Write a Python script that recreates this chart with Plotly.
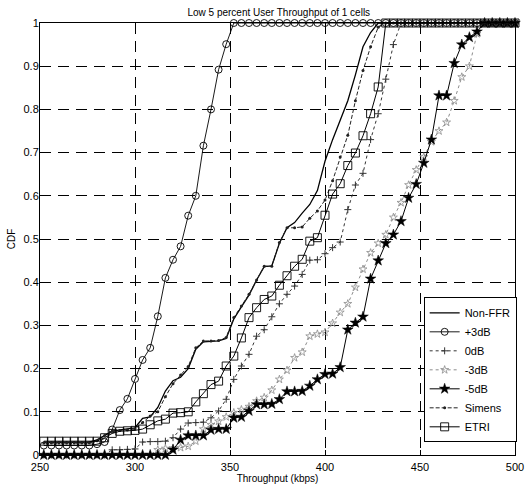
import plotly.graph_objects as go

# Throughput grid (kbps)
throughput = [252, 256, 260, 264, 268, 272, 276, 280,
              284, 288, 292, 296, 300, 304, 308, 312,
              316, 320, 324, 328, 332, 336, 340, 344,
              348, 352, 356, 360, 364, 368, 372, 376,
              380, 384, 388, 392, 396, 400, 404, 408,
              412, 416, 420, 424, 428, 432, 436, 440,
              444, 448, 452, 456, 460, 464, 468, 472,
              476, 480, 484, 488, 492, 496, 500]

cdf_non_ffr = [0.03, 0.03, 0.03, 0.03, 0.03, 0.03, 0.03, 0.035,
               0.045, 0.055, 0.058, 0.06, 0.063, 0.085, 0.088, 0.11,
               0.148, 0.172, 0.18, 0.2, 0.245, 0.262, 0.263, 0.264,
               0.27, 0.315, 0.343, 0.37, 0.405, 0.436, 0.438, 0.49,
               0.526, 0.538, 0.56, 0.58, 0.612, 0.68, 0.73, 0.775,
               0.82, 0.88, 0.945, 0.978, 1, 1, 1, 1,
               1, 1, 1, 1, 1, 1, 1, 1,
               1, 1, 1, 1, 1, 1, 1]

cdf_p3db = [0.022, 0.022, 0.022, 0.022, 0.022, 0.022, 0.022, 0.025,
            0.03, 0.059, 0.104, 0.13, 0.176, 0.22, 0.248, 0.321,
            0.41, 0.452, 0.483, 0.554, 0.6, 0.716, 0.8, 0.892,
            0.951, 1, 1, 1, 1, 1, 1, 1,
            1, 1, 1, 1, 1, 1, 1, 1,
            1, 1, 1, 1, 1, 1, 1, 1,
            1, 1, 1, 1, 1, 1, 1, 1,
            1, 1, 1, 1, 1, 1, 1]

cdf_0db = [0, 0, 0, 0, 0, 0, 0, 0,
           0, 0.012, 0.012, 0.013, 0.014, 0.03, 0.031, 0.031,
           0.032, 0.04, 0.06, 0.074, 0.075, 0.076, 0.086, 0.102,
           0.129, 0.175, 0.206, 0.233, 0.275, 0.29, 0.32, 0.35,
           0.372, 0.391, 0.418, 0.451, 0.452, 0.466, 0.48, 0.493,
           0.568, 0.625, 0.652, 0.73, 0.79, 0.87, 0.95, 1,
           1, 1, 1, 1, 1, 1, 1, 1,
           1, 1, 1, 1, 1, 1, 1]

cdf_m3db = [0, 0, 0, 0, 0, 0, 0, 0,
            0, 0, 0, 0, 0, 0, 0, 0.012,
            0.015, 0.016, 0.017, 0.02, 0.032, 0.06, 0.07, 0.078,
            0.088, 0.098, 0.105, 0.112, 0.125, 0.133, 0.15, 0.175,
            0.196, 0.225, 0.238, 0.275, 0.28, 0.284, 0.305, 0.33,
            0.35, 0.388, 0.43, 0.468, 0.49, 0.51, 0.55, 0.584,
            0.625, 0.66, 0.69, 0.725, 0.75, 0.77, 0.82, 0.875,
            0.9, 0.975, 1, 1, 1, 1, 1]

cdf_m5db = [0, 0, 0, 0, 0, 0, 0, 0,
            0, 0, 0, 0, 0, 0, 0, 0,
            0, 0.012, 0.035, 0.045, 0.045, 0.045, 0.058, 0.06,
            0.06, 0.086, 0.088, 0.102, 0.117, 0.117, 0.118, 0.129,
            0.147, 0.147, 0.148, 0.16, 0.175, 0.187, 0.188, 0.203,
            0.29, 0.306, 0.32, 0.408, 0.45, 0.49, 0.51, 0.541,
            0.595, 0.627, 0.676, 0.73, 0.832, 0.832, 0.907, 0.95,
            0.967, 0.98, 1, 1, 1, 1, 1]

cdf_simens = [0.028, 0.028, 0.028, 0.028, 0.028, 0.028, 0.028, 0.033,
              0.045, 0.055, 0.057, 0.058, 0.06, 0.075, 0.09, 0.1,
              0.135, 0.165, 0.185, 0.205, 0.248, 0.264, 0.264, 0.265,
              0.272, 0.318, 0.345, 0.372, 0.405, 0.437, 0.437, 0.492,
              0.526, 0.526, 0.528, 0.548, 0.565, 0.59, 0.635, 0.69,
              0.74, 0.82, 0.89, 0.945, 0.99, 1, 1, 1,
              1, 1, 1, 1, 1, 1, 1, 1,
              1, 1, 1, 1, 1, 1, 1]

cdf_etri = [0.032, 0.032, 0.032, 0.032, 0.032, 0.032, 0.032, 0.032,
            0.04, 0.05, 0.055, 0.056, 0.057, 0.06, 0.07, 0.079,
            0.083, 0.097, 0.098, 0.1, 0.123, 0.142, 0.163, 0.171,
            0.206, 0.229, 0.271, 0.318, 0.341, 0.36, 0.368, 0.393,
            0.415, 0.437, 0.453, 0.495, 0.503, 0.555, 0.604, 0.628,
            0.67, 0.699, 0.739, 0.79, 0.852, 1, 1, 1,
            1, 1, 1, 1, 1, 1, 1, 1,
            1, 1, 1, 1, 1, 1, 1]

x_ticks = [250, 300, 350, 400, 450, 500]
x_tick_labels = ["250", "300", "350", "400", "450", "500"]
y_ticks = [0, 0.1, 0.2, 0.3, 0.4, 0.5, 0.6, 0.7, 0.8, 0.9, 1]
y_tick_labels = ["0", "0.1", "0.2", "0.3", "0.4", "0.5", "0.6", "0.7", "0.8", "0.9", "1"]

FONT = "Liberation Sans, Arial, sans-serif"

fig = go.Figure()

series = [
    ("Non-FFR", cdf_non_ffr, dict(color="black", width=1.3), None),
    ("+3dB", cdf_p3db, dict(color="black", width=0.9),
     dict(symbol="circle-open", size=7, color="black", line=dict(width=0.9, color="black"))),
    ("0dB", cdf_0db, dict(color="#333333", width=1, dash="dot"),
     dict(symbol="cross-thin-open", size=5, color="#333333", line=dict(width=1, color="#333333"))),
    ("-3dB", cdf_m3db, dict(color="#8c8c8c", width=1, dash="dot"),
     dict(symbol="star-open", size=6, color="#8c8c8c", line=dict(width=0.8, color="#8c8c8c"))),
    ("-5dB", cdf_m5db, dict(color="black", width=1),
     dict(symbol="star", size=8, color="black", line=dict(width=0.5, color="black"))),
    ("Simens", cdf_simens, dict(color="#222222", width=1, dash="4px,2px"),
     dict(symbol="circle", size=3, color="#222222")),
    ("ETRI", cdf_etri, dict(color="black", width=1),
     dict(symbol="square-open", size=8, color="black", line=dict(width=0.9, color="black"))),
]

for name, ys, line, marker in series:
    if marker is None:
        fig.add_trace(go.Scatter(x=throughput, y=ys, name=name, mode="lines",
                                 line=line, cliponaxis=False))
    else:
        fig.add_trace(go.Scatter(x=throughput, y=ys, name=name, mode="lines+markers",
                                 line=line, marker=marker, cliponaxis=False))

axis_common = dict(
    showline=True, linecolor="black", linewidth=1, mirror="allticks",
    ticks="inside", ticklen=5, tickcolor="black", tickwidth=1,
    showgrid=True, gridcolor="black", gridwidth=1.2, griddash="11px,7px",
    zeroline=False, automargin=False,
    tickfont=dict(family=FONT, size=11, color="black"),
)

fig.update_layout(
    width=526, height=487,
    margin=dict(l=40, r=10, t=23, b=32),
    paper_bgcolor="white", plot_bgcolor="white",
    title=dict(text="Low 5 percent User Throughput of 1 cells", x=0.53, xanchor="center",
               y=0.975, yanchor="middle",
               font=dict(family=FONT, size=10, color="black")),
    xaxis=dict(range=[250, 500], tickvals=x_ticks, ticktext=x_tick_labels,
               ticklabeloverflow="allow", ticklabelstandoff=2,
               title=dict(text="Throughput (kbps)", font=dict(family=FONT, size=10, color="black"),
                          standoff=1),
               **axis_common),
    yaxis=dict(range=[0, 1], tickvals=y_ticks, ticktext=y_tick_labels,
               ticklabelstandoff=-2,
               title=dict(text="CDF", font=dict(family=FONT, size=10, color="black"),
                          standoff=6),
               **axis_common),
    legend=dict(x=0.806, y=0.365, xanchor="left", yanchor="top",
                bgcolor="white", bordercolor="black", borderwidth=1,
                font=dict(family=FONT, size=11, color="black"),
                tracegroupgap=0, itemwidth=30),
    showlegend=True,
)

fig.write_html("out.html")
